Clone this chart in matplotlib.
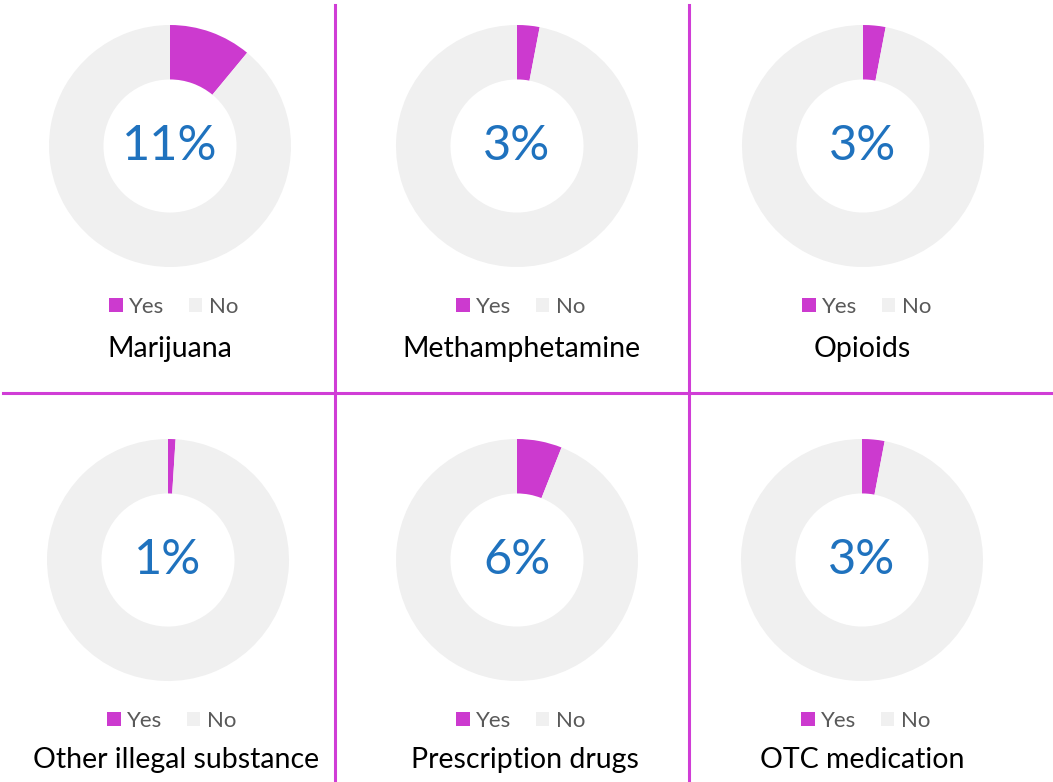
import numpy as np
import matplotlib.pyplot as plt
from matplotlib.patches import Patch
from matplotlib.lines import Line2D

plt.rcParams['font.family'] = ['Lato', 'DejaVu Sans']

# data
labels = ["Marijuana", "Methamphetamine", "Opioids",
          "Other illegal substance", "Prescription drugs", "OTC medication"]
yes_pct = [11, 3, 3, 1, 6, 3]
legend_labels = ["Yes", "No"]

magenta = "#CC3ACF"
grey = "#F0F0F0"
blue = "#1F72BE"
line_col = "#D03DD6"

W, H = 1053, 782
fig = plt.figure(figsize=(W / 100, H / 100), dpi=100)

# donut centers in pixels (from top-left), outer radius
centers = [(170, 146), (517, 146), (863, 146),
           (168, 560), (517, 560), (862, 560)]
title_pos = [(170, 349), (521, 349), (862, 349),
             (176, 760), (525, 760), (862, 760)]
legend_y = [307, 307, 307, 721, 721, 721]
R = 121

for i, lab in enumerate(labels):
    cx, cy = centers[i]
    ax = fig.add_axes([(cx - R) / W, 1 - (cy + R) / H, 2 * R / W, 2 * R / H])
    v = yes_pct[i]
    ax.pie([v, 100 - v], startangle=90, counterclock=False,
           colors=[magenta, grey], wedgeprops=dict(width=0.45, linewidth=0))
    ax.set_xlim(-1, 1)
    ax.set_ylim(-1, 1)
    ax.set_aspect('equal')
    ax.axis('off')
    ax.text(0, 0, "{}%".format(v), ha='center', va='center',
            fontsize=35, color=blue)

    handles = [Patch(facecolor=magenta, edgecolor='none'),
               Patch(facecolor=grey, edgecolor='none')]
    fig.legend(handles, legend_labels, loc='center',
               bbox_to_anchor=((cx + 4) / W, 1 - legend_y[i] / H),
               ncol=2, frameon=False, fontsize=16, labelcolor='#595959',
               handlelength=0.6, handleheight=0.6, handletextpad=0.3,
               columnspacing=1.1, borderpad=0)

    tx, ty = title_pos[i]
    fig.text(tx / W, 1 - ty / H, lab, ha='center', va='center',
             fontsize=20.5, color='black')

# divider lines
fig.add_artist(Line2D([335 / W, 335 / W], [1 - 5 / H, 0], color=line_col, lw=2.2))
fig.add_artist(Line2D([689 / W, 689 / W], [1 - 5 / H, 0], color=line_col, lw=2.2))
fig.add_artist(Line2D([3 / W, 1], [1 - 393 / H, 1 - 393 / H], color=line_col, lw=2.2))

plt.savefig("out.png", dpi=100)
